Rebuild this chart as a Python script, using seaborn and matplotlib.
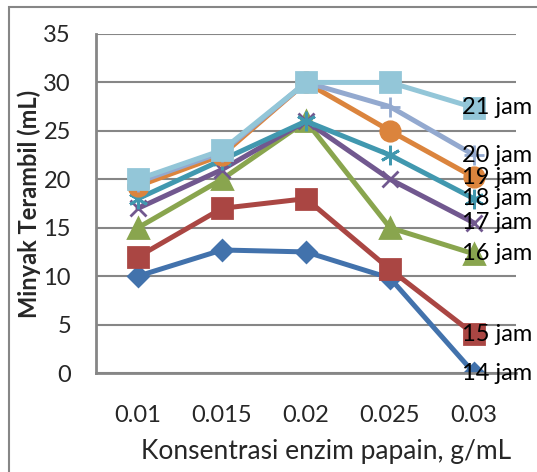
import numpy as np
import pandas as pd
import matplotlib
matplotlib.use("Agg")
import matplotlib.pyplot as plt
import seaborn as sns
from matplotlib.patches import Rectangle

sns.set_style("white")
plt.rcParams["font.family"] = ["Lato", "DejaVu Sans"]

# ----------------------------------------------------------------
# data
# ----------------------------------------------------------------
konsentrasi = ["0.01", "0.015", "0.02", "0.025", "0.03"]
jam_14 = [10, 12.7, 12.5, 9.8, 0]
jam_15 = [12, 17, 18, 10.7, 4]
jam_16 = [15, 20, 26, 15, 12.3]
jam_17 = [17, 21, 26, 20, 15.5]
jam_18 = [18, 22, 26, 22.5, 18]
jam_19 = [19.3, 22.5, 30, 25, 20.2]
jam_20 = [19.7, 22.8, 30, 27.5, 22.5]
jam_21 = [20, 23, 30, 30, 27.4]

series = {
    "14 jam": jam_14, "15 jam": jam_15, "16 jam": jam_16, "17 jam": jam_17,
    "18 jam": jam_18, "19 jam": jam_19, "20 jam": jam_20, "21 jam": jam_21,
}

colors = ["#4272AC", "#AA4643", "#89A54E", "#71588F",
          "#4198AF", "#DB843D", "#93A9CF", "#93C6D8"]
markers = ["D", "s", "^", "x", (6, 2, 0), "o", "+", "s"]
msizes = [10, 14, 14, 12, 14, 14, 14, 14]

rows = []
for name, vals in series.items():
    for i, v in enumerate(vals):
        rows.append({"seri": name, "x": i, "y": v})
df = pd.DataFrame(rows)

fig = plt.figure(figsize=(5.37, 4.72), dpi=100)
ax = fig.add_axes([96 / 537, 1 - 373 / 472, 420 / 537, 339 / 472])

for k, name in enumerate(series):
    sub = df[df["seri"] == name]
    sns.lineplot(data=sub, x="x", y="y", ax=ax, color=colors[k], lw=3.6,
                 marker=markers[k], markersize=msizes[k], markeredgewidth=2,
                 markeredgecolor=colors[k], legend=False)
    last = sub.iloc[-1]
    ax.annotate(name, (last["x"], last["y"]), xytext=(-12, 0),
                textcoords="offset pixels", va="center", ha="left",
                fontsize=17, color="black", annotation_clip=False)

ax.set_xlim(-0.5, 4.5)
ax.set_ylim(0, 35)
ax.set_xticks(range(len(konsentrasi)))
ax.set_xticklabels(konsentrasi)
ax.set_yticks(np.arange(0, 36, 5))
ax.yaxis.grid(True, color="#868686", lw=1.5)
ax.set_axisbelow(True)
ax.tick_params(axis="y", length=0, pad=18, labelsize=17)
ax.tick_params(axis="x", length=0, pad=23, labelsize=17)
for s in ["top", "right"]:
    ax.spines[s].set_visible(False)
for s in ["left", "bottom"]:
    ax.spines[s].set_color("#868686")
    ax.spines[s].set_linewidth(2)

ax.set_xlabel("Konsentrasi enzim papain, g/mL", fontsize=19)
ax.set_ylabel("Minyak Terambil (mL)", fontsize=17, fontweight="bold")
ax.xaxis.set_label_coords(0.548, -0.233)
ax.yaxis.set_label_coords(-0.16, 0.5)
ax.xaxis.label.set_va("center")
ax.yaxis.label.set_va("center")

# outer chart border
fig.patches.append(Rectangle((8.5 / 537, -0.1), 1.2, 1.1 - 7 / 472,
                             transform=fig.transFigure, fill=False,
                             edgecolor="#868686", lw=1.5))

fig.savefig("out.png", dpi=100)
